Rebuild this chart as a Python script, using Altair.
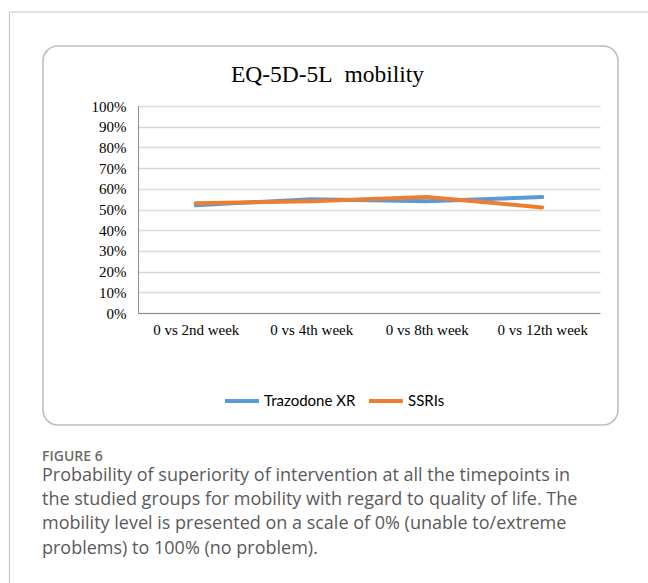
import altair as alt
import pandas as pd

# Time points and probability of superiority for each treatment group
weeks = ["0 vs 2nd week", "0 vs 4th week", "0 vs 8th week", "0 vs 12th week"]
trazodone_xr = [0.52, 0.55, 0.54, 0.56]
ssris = [0.53, 0.54, 0.56, 0.51]
groups = ["Trazodone XR", "SSRIs"]
colors = ["#5B9BD5", "#ED7D31"]
y_ticks = [i / 10 for i in range(11)]

chart_title = "EQ-5D-5L\u00a0 mobility"
caption_head = "FIGURE 6"
caption_lines = [
    "Probability of superiority of intervention at all the timepoints in",
    "the studied groups for mobility with regard to quality of life. The",
    "mobility level is presented on a scale of 0% (unable to/extreme",
    "problems) to 100% (no problem).",
]

df = pd.DataFrame(
    {
        "week": weeks * 2,
        "value": trazodone_xr + ssris,
        "group": [groups[0]] * len(weeks) + [groups[1]] * len(weeks),
    }
)

SERIF = "Liberation Serif"
SANS = "Open Sans"
W, H = 462, 207
PAD = {"left": 138, "top": 106, "right": 48, "bottom": 270}

one = pd.DataFrame({"k": [0]})

lines = (
    alt.Chart(df)
    .mark_line(strokeWidth=4, strokeCap="round", strokeJoin="round")
    .encode(
        x=alt.X(
            "week:N",
            sort=weeks,
            scale=alt.Scale(type="point", padding=0.5),
            axis=alt.Axis(
                title=None,
                labelAngle=0,
                ticks=False,
                grid=False,
                domainColor="#8c8c8c",
                domainWidth=1,
                labelFont=SERIF,
                labelFontSize=15,
                labelColor="#000000",
                labelPadding=9,
            ),
        ),
        y=alt.Y(
            "value:Q",
            scale=alt.Scale(domain=[0, 1], nice=False),
            axis=alt.Axis(
                title=None,
                values=y_ticks,
                format=".0%",
                ticks=False,
                grid=True,
                gridColor="#d9d9d9",
                gridWidth=1.5,
                domainColor="#8c8c8c",
                domainWidth=1,
                labelFont=SERIF,
                labelFontSize=15,
                labelColor="#000000",
                labelPadding=12,
            ),
        ),
        color=alt.Color(
            "group:N",
            sort=groups,
            scale=alt.Scale(domain=groups, range=colors),
            legend=alt.Legend(
                title=None,
                orient="none",
                direction="horizontal",
                legendX=85,
                legendY=276,
                symbolType="stroke",
                symbolSize=1156,
                symbolStrokeWidth=4,
                labelFont="Lato",
                labelFontSize=15,
                labelColor="#000000",
                labelOffset=3,
                columnPadding=5,
                padding=0,
            ),
        ),
    )
)

# Chart heading
heading = (
    alt.Chart(one)
    .mark_text(align="center", baseline="alphabetic", font=SERIF, fontSize=23.5,
               color="#000000")
    .encode(
        x=alt.value(327.5 - PAD["left"]),
        y=alt.value(81.5 - PAD["top"]),
        text=alt.value(chart_title),
    )
)

# Rounded frame around the chart
frame = (
    alt.Chart(one)
    .mark_rect(cornerRadius=15, fillOpacity=0, stroke="#bdbdbd", strokeWidth=1.5)
    .encode(
        x=alt.value(43 - PAD["left"]),
        x2=alt.value(618 - PAD["left"]),
        y=alt.value(46 - PAD["top"]),
        y2=alt.value(425 - PAD["top"]),
    )
)

# Page edge lines
page_top = (
    alt.Chart(one)
    .mark_rule(color="#c8c8c8", strokeWidth=1.2)
    .encode(
        x=alt.value(9.5 - PAD["left"]),
        x2=alt.value(648 - PAD["left"]),
        y=alt.value(12 - PAD["top"]),
    )
)
page_left = (
    alt.Chart(one)
    .mark_rule(color="#c8c8c8", strokeWidth=1.2)
    .encode(
        x=alt.value(9.5 - PAD["left"]),
        y=alt.value(12 - PAD["top"]),
        y2=alt.value(583 - PAD["top"]),
    )
)

head = (
    alt.Chart(one)
    .mark_text(align="left", baseline="alphabetic", font=SANS, fontSize=14,
               fontWeight=600, color="#6b6b6b")
    .encode(
        x=alt.value(42 - PAD["left"]),
        y=alt.value(460.5 - PAD["top"]),
        text=alt.value(caption_head),
    )
)

caption_layers = []
for i, line in enumerate(caption_lines):
    caption_layers.append(
        alt.Chart(one)
        .mark_text(align="left", baseline="alphabetic", font=SANS, fontSize=18,
                   color="#5a5a5a")
        .encode(
            x=alt.value(42 - PAD["left"]),
            y=alt.value(481 + 24.2 * i - PAD["top"]),
            text=alt.value(line),
        )
    )

chart = (
    alt.layer(page_top, page_left, frame, heading, lines, head, *caption_layers)
    .properties(
        width=W,
        height=H,
        padding=PAD,
        autosize=alt.AutoSizeParams(type="none"),
        background="#ffffff",
    )
    .configure_view(stroke=None)
)

chart.save("out.html", embed_options={"renderer": "svg", "actions": False})
